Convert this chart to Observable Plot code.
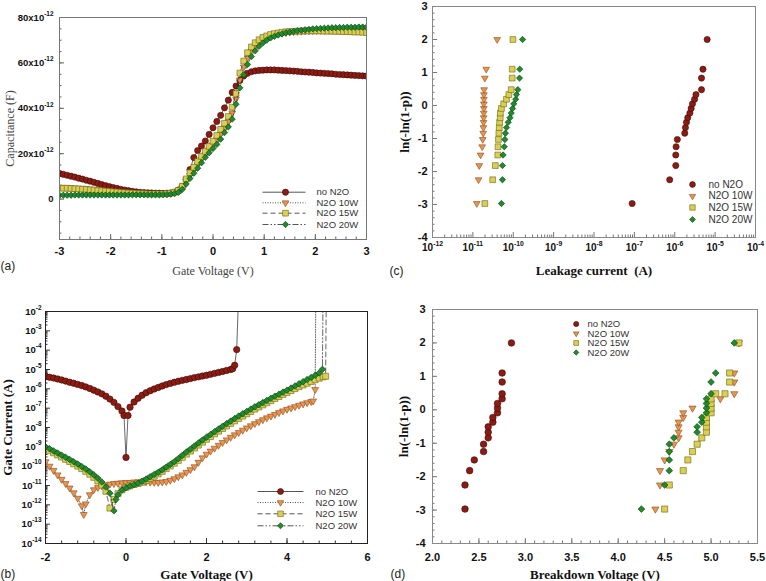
<!DOCTYPE html>
<html>
<head>
<meta charset="utf-8">
<script src="https://cdn.jsdelivr.net/npm/d3@7"></script>
<script src="https://cdn.jsdelivr.net/npm/@observablehq/plot@0.6"></script>
<style>
  body { margin: 0; background: #fff; }
  #fig { position: relative; width: 766px; height: 581px; overflow: hidden; background: #fff; }
  #fig svg { position: absolute; }
</style>
</head>
<body>
<div id="fig"></div>
<script>
// ---- series shared by all four panels ----
const seriesNames = ["no N2O", "N2O 10W", "N2O 15W", "N2O 20W"];
const markerSymbols = ["circle", "triangle", "square", "diamond2"];
const markerScale = [1, 0.8, 1.05, 0.92]; // evens out the apparent size of the symbols
const markerFills = ["#8c1c13", "#e8954f", "#d9cf52", "#1f8b2c"];
const markerStrokes = ["#3d0b06", "#8a4a1a", "#6d6518", "#0b3d12"];
const lineDashes = [undefined, "1,1.5", "5,3", "6,2,1.5,2,1.5,2"];

// ---- (a) C-V sweep: gate voltage (V) and capacitance (units of 1e-12 F) ----
const cvVoltage = [
  -3, -2.925, -2.85, -2.775, -2.7, -2.625, -2.55, -2.475, -2.4, -2.325,
  -2.25, -2.175, -2.1, -2.025, -1.95, -1.875, -1.8, -1.725, -1.65, -1.575,
  -1.5, -1.425, -1.35, -1.275, -1.2, -1.125, -1.05, -0.975, -0.9, -0.825,
  -0.75, -0.675, -0.6, -0.525, -0.45, -0.375, -0.3, -0.225, -0.15, -0.075,
  0, 0.075, 0.15, 0.225, 0.3, 0.375, 0.45, 0.525, 0.6, 0.675,
  0.75, 0.825, 0.9, 0.975, 1.05, 1.125, 1.2, 1.275, 1.35, 1.425,
  1.5, 1.575, 1.65, 1.725, 1.8, 1.875, 1.95, 2.025, 2.1, 2.175,
  2.25, 2.325, 2.4, 2.475, 2.55, 2.625, 2.7, 2.775, 2.85, 2.925,
  3
];
const capNoN2O = [
  11.3, 10.9, 10.5, 10.1, 9.7, 9.2, 8.8, 8.3, 7.9, 7.4,
  6.9, 6.4, 5.9, 5.5, 5.1, 4.7, 4.3, 4.0, 3.7, 3.4,
  3.2, 3.0, 2.9, 2.8, 2.7, 2.6, 2.6, 2.5, 2.6, 2.7,
  3.1, 4.0, 5.6, 8.6, 13.0, 18.3, 21.4, 23.4, 25.6, 28.5,
  31.4, 34.2, 36.9, 40.2, 43.6, 47.0, 49.8, 52.3, 54.2, 55.4,
  56.1, 56.5, 56.7, 56.8, 56.9, 56.9, 56.9, 56.8, 56.7, 56.6,
  56.5, 56.4, 56.3, 56.1, 56.0, 55.9, 55.8, 55.6, 55.5, 55.4,
  55.3, 55.2, 55.0, 54.9, 54.8, 54.7, 54.6, 54.5, 54.4, 54.3,
  54.2
];
const capN2O10W = [
  5.2, 5.1, 5.0, 4.9, 4.8, 4.7, 4.6, 4.5, 4.3, 4.2,
  4.0, 3.9, 3.7, 3.6, 3.4, 3.3, 3.1, 3.0, 2.9, 2.8,
  2.7, 2.6, 2.5, 2.5, 2.4, 2.4, 2.4, 2.4, 2.4, 2.5,
  2.8, 3.5, 5.0, 7.8, 10.4, 12.8, 15.1, 17.4, 19.6, 21.8,
  23.9, 26.1, 28.6, 31.3, 34.1, 37.9, 44.0, 52.5, 58.2, 62.2,
  65.2, 67.4, 69.0, 70.2, 71.1, 71.8, 72.3, 72.7, 73.0, 73.3,
  73.5, 73.7, 73.8, 73.9, 74.0, 74.1, 74.1, 74.2, 74.2, 74.2,
  74.2, 74.2, 74.2, 74.2, 74.1, 74.1, 74.1, 74.1, 74.0, 74.0,
  74.0
];
const capN2O15W = [
  4.9, 4.8, 4.8, 4.7, 4.6, 4.5, 4.4, 4.3, 4.1, 4.0,
  3.8, 3.7, 3.5, 3.4, 3.2, 3.1, 2.9, 2.8, 2.7, 2.6,
  2.5, 2.4, 2.4, 2.3, 2.3, 2.3, 2.3, 2.3, 2.4, 2.6,
  3.0, 3.8, 5.7, 8.9, 11.6, 14.0, 16.5, 18.8, 21.0, 23.2,
  25.5, 28.0, 30.7, 33.4, 36.4, 40.5, 46.5, 55.5, 60.8, 64.5,
  67.0, 68.9, 70.2, 71.2, 71.9, 72.5, 72.9, 73.2, 73.5, 73.7,
  73.8, 73.9, 74.0, 74.0, 74.1, 74.1, 74.1, 74.1, 74.1, 74.0,
  74.0, 74.0, 73.9, 73.9, 73.8, 73.8, 73.7, 73.6, 73.6, 73.5,
  73.4
];
const capN2O20W = [
  1.7, 1.7, 1.7, 1.7, 1.8, 1.8, 1.8, 1.8, 1.8, 1.8,
  1.8, 1.8, 1.8, 1.8, 1.8, 1.8, 1.8, 1.8, 1.8, 1.9,
  1.9, 1.9, 1.9, 1.9, 1.9, 1.9, 1.9, 2.0, 2.0, 2.2,
  2.5, 3.0, 4.3, 6.6, 9.1, 11.4, 13.6, 16.0, 18.4, 20.4,
  22.3, 24.1, 26.4, 29.3, 31.8, 35.2, 41.8, 49.0, 54.8, 59.3,
  62.8, 65.3, 67.3, 68.8, 70.0, 71.0, 71.7, 72.3, 72.8, 73.3,
  73.6, 73.9, 74.2, 74.4, 74.6, 74.8, 75.0, 75.1, 75.2, 75.3,
  75.4, 75.5, 75.5, 75.6, 75.6, 75.7, 75.7, 75.7, 75.8, 75.8,
  75.8
];
const capTicks = [0, 20, 40, 60, 80];

// ---- (b) I-V sweep: [gate voltage (V), log10 of gate current (A)] ----
const jgNoN2O = [
  [-2,-5.35],[-1.9,-5.40],[-1.8,-5.44],[-1.7,-5.49],[-1.6,-5.54],[-1.5,-5.60],[-1.4,-5.66],[-1.3,-5.71],
  [-1.2,-5.77],[-1.1,-5.83],[-1,-5.90],[-0.9,-5.98],[-0.8,-6.07],[-0.7,-6.16],[-0.6,-6.26],[-0.5,-6.38],
  [-0.4,-6.53],[-0.3,-6.70],[-0.2,-6.92],[-0.1,-7.15],[-0.05,-7.38],[0,-9.55],[0.05,-7.38],[0.1,-6.95],
  [0.2,-6.68],[0.3,-6.49],[0.4,-6.33],[0.5,-6.20],[0.6,-6.10],[0.7,-6.01],[0.8,-5.93],[0.9,-5.85],
  [1,-5.78],[1.1,-5.72],[1.2,-5.66],[1.3,-5.61],[1.4,-5.56],[1.5,-5.52],[1.6,-5.47],[1.7,-5.42],
  [1.8,-5.38],[1.9,-5.34],[2,-5.30],[2.1,-5.25],[2.2,-5.20],[2.3,-5.15],[2.4,-5.10],[2.5,-5.05],
  [2.6,-5.00],[2.65,-4.96],[2.7,-4.78],[2.75,-3.97],[2.8,-1]
];
const jgN2O10W = [
  [-2,-9.77],[-1.9,-10.00],[-1.8,-10.22],[-1.7,-10.45],[-1.6,-10.68],[-1.5,-10.90],[-1.4,-11.13],[-1.3,-11.38],
  [-1.2,-11.66],[-1.1,-12.05],[-1.05,-12.50],[-1,-11.95],[-0.9,-11.48],[-0.8,-11.22],[-0.7,-11.10],[-0.6,-11.02],
  [-0.5,-10.97],[-0.4,-10.93],[-0.3,-10.90],[-0.2,-10.88],[-0.1,-10.86],[0,-10.85],[0.1,-10.84],[0.2,-10.82],
  [0.3,-10.81],[0.4,-10.80],[0.5,-10.81],[0.6,-10.83],[0.7,-10.84],[0.8,-10.84],[0.9,-10.82],[1,-10.79],
  [1.1,-10.73],[1.2,-10.65],[1.3,-10.55],[1.4,-10.45],[1.5,-10.32],[1.6,-10.18],[1.7,-10.03],[1.8,-9.80],
  [1.9,-9.57],[2,-9.38],[2.1,-9.22],[2.2,-9.07],[2.3,-8.92],[2.4,-8.78],[2.5,-8.64],[2.6,-8.51],
  [2.7,-8.38],[2.8,-8.26],[2.9,-8.14],[3,-8.02],[3.1,-7.91],[3.2,-7.80],[3.3,-7.70],[3.4,-7.60],
  [3.5,-7.50],[3.6,-7.41],[3.7,-7.32],[3.8,-7.23],[3.9,-7.14],[4,-7.06],[4.1,-6.99],[4.2,-6.92],
  [4.3,-6.85],[4.4,-6.78],[4.5,-6.72],[4.6,-6.66],[4.65,-6.63],[4.7,-6.04],[4.72,0]
];
const jgN2O15W = [
  [-2,-9.10],[-1.9,-9.20],[-1.8,-9.31],[-1.7,-9.42],[-1.6,-9.53],[-1.5,-9.65],[-1.4,-9.76],[-1.3,-9.88],
  [-1.2,-10.00],[-1.1,-10.13],[-1,-10.27],[-0.9,-10.42],[-0.8,-10.58],[-0.7,-10.77],[-0.6,-10.98],[-0.5,-11.30],
  [-0.4,-12.17],[-0.3,-11.72],[-0.2,-11.42],[-0.1,-11.22],[0,-11.10],[0.1,-11.02],[0.2,-10.95],[0.3,-10.90],
  [0.4,-10.83],[0.5,-10.74],[0.6,-10.63],[0.7,-10.52],[0.8,-10.40],[0.9,-10.27],[1,-10.13],[1.1,-9.99],
  [1.2,-9.85],[1.3,-9.70],[1.4,-9.54],[1.5,-9.38],[1.6,-9.22],[1.7,-9.06],[1.8,-8.91],[1.9,-8.76],
  [2,-8.61],[2.1,-8.47],[2.2,-8.33],[2.3,-8.19],[2.4,-8.05],[2.5,-7.92],[2.6,-7.79],[2.7,-7.66],
  [2.8,-7.53],[2.9,-7.41],[3,-7.29],[3.1,-7.17],[3.2,-7.05],[3.3,-6.94],[3.4,-6.83],[3.5,-6.72],
  [3.6,-6.61],[3.7,-6.50],[3.8,-6.40],[3.9,-6.29],[4,-6.19],[4.1,-6.09],[4.2,-5.99],[4.3,-5.89],
  [4.4,-5.80],[4.5,-5.71],[4.6,-5.62],[4.7,-5.53],[4.8,-5.45],[4.9,-5.38],[4.96,-5.35],[4.98,0]
];
const jgN2O20W = [
  [-2,-9.00],[-1.9,-9.10],[-1.8,-9.21],[-1.7,-9.32],[-1.6,-9.43],[-1.5,-9.54],[-1.4,-9.65],[-1.3,-9.77],
  [-1.2,-9.89],[-1.1,-10.02],[-1,-10.15],[-0.9,-10.29],[-0.8,-10.45],[-0.7,-10.62],[-0.6,-10.82],[-0.5,-11.08],
  [-0.4,-11.40],[-0.3,-12.31],[-0.25,-11.72],[-0.2,-11.48],[-0.1,-11.24],[0,-11.12],[0.1,-11.03],[0.2,-10.96],
  [0.3,-10.88],[0.4,-10.78],[0.5,-10.67],[0.6,-10.55],[0.7,-10.43],[0.8,-10.32],[0.9,-10.19],[1,-10.05],
  [1.1,-9.91],[1.2,-9.77],[1.3,-9.61],[1.4,-9.44],[1.5,-9.27],[1.6,-9.12],[1.7,-8.96],[1.8,-8.80],
  [1.9,-8.65],[2,-8.50],[2.1,-8.36],[2.2,-8.22],[2.3,-8.08],[2.4,-7.94],[2.5,-7.80],[2.6,-7.67],
  [2.7,-7.54],[2.8,-7.41],[2.9,-7.29],[3,-7.17],[3.1,-7.05],[3.2,-6.93],[3.3,-6.82],[3.4,-6.71],
  [3.5,-6.60],[3.6,-6.49],[3.7,-6.38],[3.8,-6.28],[3.9,-6.17],[4,-6.07],[4.1,-5.96],[4.2,-5.85],
  [4.3,-5.74],[4.4,-5.63],[4.5,-5.52],[4.6,-5.41],[4.7,-5.30],[4.8,-5.18],[4.88,-4.99],[4.9,0]
];

// ---- (c) Weibull plot of leakage current: [current (A), ln(-ln(1-p))] ----
const leakNoN2O = [
  [8.8e-8,-2.97],[7.5e-7,-2.25],[1.06e-6,-1.82],[1.06e-6,-1.50],[1.08e-6,-1.25],[1.16e-6,-1.03],[1.77e-6,-0.84],
  [1.84e-6,-0.67],[1.95e-6,-0.51],[2.1e-6,-0.37],[2.37e-6,-0.23],[2.55e-6,-0.09],[2.75e-6,0.05],[3.1e-6,0.19],
  [3.35e-6,0.33],[4.6e-6,0.48],[4.6e-6,0.83],[5.0e-6,1.10],[6.35e-6,2.00]
];
const leakN2O10W = [
  [1.25e-11,-2.97],[1.38e-11,-2.25],[1.44e-11,-1.82],[1.55e-11,-1.50],[1.7e-11,-1.25],[1.75e-11,-1.03],[1.8e-11,-0.84],
  [1.82e-11,-0.67],[1.84e-11,-0.51],[1.85e-11,-0.37],[1.86e-11,-0.23],[1.87e-11,-0.09],[1.87e-11,0.05],[1.88e-11,0.19],
  [1.88e-11,0.33],[1.9e-11,0.48],[1.98e-11,0.83],[2.14e-11,1.10],[4.0e-11,2.00]
];
const leakN2O15W = [
  [1.98e-11,-2.97],[3.1e-11,-2.25],[3.6e-11,-1.82],[4.15e-11,-1.50],[4.2e-11,-1.25],[4.3e-11,-1.03],[4.4e-11,-0.84],
  [4.5e-11,-0.67],[4.6e-11,-0.51],[4.75e-11,-0.37],[4.8e-11,-0.23],[5.1e-11,-0.09],[5.8e-11,0.05],[6.8e-11,0.19],
  [7.8e-11,0.33],[8.9e-11,0.48],[9.4e-11,0.83],[9.4e-11,1.10],[9.8e-11,2.00]
];
const leakN2O20W = [
  [5.1e-11,-2.97],[5.4e-11,-2.25],[5.4e-11,-1.82],[5.6e-11,-1.50],[6.0e-11,-1.25],[6.2e-11,-1.03],[6.4e-11,-0.84],
  [6.8e-11,-0.67],[7.5e-11,-0.51],[8.3e-11,-0.37],[8.9e-11,-0.23],[9.6e-11,-0.09],[1.03e-10,0.05],[1.15e-10,0.19],
  [1.2e-10,0.33],[1.3e-10,0.48],[1.43e-10,0.83],[1.45e-10,1.10],[1.7e-10,2.00]
];

// ---- (d) Weibull plot of breakdown voltage: [voltage (V), ln(-ln(1-p))] ----
const bdNoN2O = [
  [2.35,-2.97],[2.35,-2.25],[2.40,-1.82],[2.45,-1.50],[2.55,-1.25],[2.55,-1.03],[2.60,-0.84],[2.60,-0.67],
  [2.60,-0.51],[2.65,-0.37],[2.65,-0.23],[2.70,-0.09],[2.70,0.05],[2.70,0.19],[2.75,0.33],[2.75,0.48],
  [2.75,0.83],[2.75,1.10],[2.85,2.00]
];
const bdN2O10W = [
  [4.40,-2.97],[4.45,-2.25],[4.45,-1.82],[4.50,-1.50],[4.55,-1.25],[4.60,-1.03],[4.65,-0.84],[4.65,-0.67],
  [4.65,-0.51],[4.65,-0.37],[4.70,-0.23],[4.70,-0.09],[4.80,0.05],[5.10,0.33],[5.25,0.48],[5.25,0.83],
  [5.25,1.10],[5.30,2.00]
];
const bdN2O15W = [
  [4.50,-2.97],[4.55,-2.25],[4.70,-1.82],[4.75,-1.50],[4.80,-1.25],[4.85,-1.03],[4.90,-0.84],[4.95,-0.67],
  [4.95,-0.51],[4.95,-0.37],[4.95,-0.23],[5.00,-0.09],[5.00,0.05],[5.00,0.19],[5.00,0.33],[5.05,0.48],
  [5.15,0.48],[5.20,0.83],[5.20,1.10],[5.30,2.00]
];
const bdN2O20W = [
  [4.25,-2.97],[4.50,-2.25],[4.55,-1.82],[4.55,-1.50],[4.55,-1.25],[4.55,-1.03],[4.60,-0.84],[4.85,-0.67],
  [4.85,-0.51],[4.90,-0.37],[4.90,-0.23],[4.95,-0.09],[4.95,0.05],[4.95,0.19],[4.95,0.33],[5.00,0.48],
  [5.00,0.83],[5.05,1.10],[5.25,2.00]
];

// ---- drawing helpers ----
const SANS = "Liberation Sans, Arial, Helvetica, sans-serif";
const SERIF = "Liberation Serif, Times New Roman, serif";
const fig = document.getElementById("fig");

for (const a of [capNoN2O, capN2O10W, capN2O15W, capN2O20W]) {
  if (a.length !== cvVoltage.length) throw new Error("C-V series length " + a.length);
}

// a flat stroke used as the line sample in legends
const legendLine = {draw(ctx, size) { const h = Math.sqrt(size / Math.PI); ctx.moveTo(-h, 0); ctx.lineTo(h, 0); }};

const rowsOf = (pairs, fy = (v) => v) => pairs.map(([x, y]) => ({x, y: fy(y)}));

function seriesMarks(rows, i, {r, line}) {
  const marks = [];
  if (line) marks.push(Plot.line(rows, {x: "x", y: "y", stroke: "#262626", strokeWidth: 0.7, strokeDasharray: lineDashes[i], clip: true}));
  marks.push(Plot.dot(rows, {
    x: "x", y: "y", r: r * markerScale[i], symbol: markerSymbols[i], rotate: i === 1 ? 180 : 0,
    fill: markerFills[i], stroke: markerStrokes[i], strokeWidth: 0.6, clip: true
  }));
  return marks;
}

function legendMarks({anchor, dys, markDx, textDx, line, r, fontSize}) {
  const marks = [];
  seriesNames.forEach((name, i) => {
    const dy = dys[i];
    if (line) marks.push(Plot.dot([name], {
      x: null, y: null, frameAnchor: anchor, dx: line.dx, dy, symbol: legendLine, r: line.half,
      fill: "none", stroke: "#555", strokeWidth: 1, strokeDasharray: lineDashes[i]
    }));
    marks.push(Plot.dot([name], {
      x: null, y: null, frameAnchor: anchor, dx: markDx, dy, symbol: markerSymbols[i], r: r * markerScale[i],
      rotate: i === 1 ? 180 : 0, fill: markerFills[i], stroke: markerStrokes[i], strokeWidth: 0.6
    }));
    marks.push(Plot.text([name], {
      x: null, y: null, frameAnchor: anchor, dx: textDx, dy, textAnchor: "start", lineAnchor: "middle",
      fontFamily: SANS, fontSize, fill: "#333"
    }));
  });
  return marks;
}

// "10^-12" style tick labels get a raised, smaller exponent
function raiseExponents(svg) {
  const ns = "http://www.w3.org/2000/svg";
  for (const t of svg.querySelectorAll("text")) {
    const s = t.textContent, k = s.indexOf("^");
    if (k < 0 || t.children.length) continue;
    const base = document.createElementNS(ns, "tspan");
    base.textContent = s.slice(0, k);
    const sup = document.createElementNS(ns, "tspan");
    sup.textContent = s.slice(k + 1);
    sup.setAttribute("font-size", "68%");
    sup.setAttribute("dy", "-0.75em");
    t.textContent = "";
    t.append(base, sup);
  }
}

function panel(cfg) {
  const t = cfg.titles;
  const svg = Plot.plot({
    width: cfg.width, height: cfg.height,
    marginTop: cfg.m[0], marginRight: cfg.m[1], marginBottom: cfg.m[2], marginLeft: cfg.m[3],
    x: {...cfg.x, label: null},
    y: {...cfg.y, label: null},
    style: {fontFamily: SANS, fontSize: "11px", color: "#111", background: "transparent"},
    marks: [
      Plot.axisX({ticks: cfg.xMinor, tickSize: -2.5, fill: "none", stroke: cfg.axisColor, label: null}),
      Plot.axisY({ticks: cfg.yMinor, tickSize: -2.5, fill: "none", stroke: cfg.axisColor, label: null}),
      Plot.axisX({ticks: cfg.xTicks, tickFormat: cfg.xFormat, tickSize: -5, tickPadding: cfg.xPad,
        stroke: cfg.axisColor, fill: "#111", fontSize: cfg.xFont, fontWeight: "bold", label: null}),
      Plot.axisY({ticks: cfg.yTicks, tickFormat: cfg.yFormat, tickSize: -5, tickPadding: cfg.yPad,
        stroke: cfg.axisColor, fill: "#111", fontSize: cfg.yFont, fontWeight: "bold", label: null}),
      ...cfg.marks,
      Plot.frame({stroke: cfg.frameColor, strokeWidth: 1}),
      Plot.text([t.x], {x: null, y: null, frameAnchor: "bottom", dy: t.xDy, textAnchor: "middle", lineAnchor: "middle",
        fontFamily: SERIF, fontSize: t.size, fontWeight: t.weight, fill: t.color}),
      Plot.text([t.y], {x: null, y: null, frameAnchor: "left", dx: t.yDx, rotate: -90, textAnchor: "middle", lineAnchor: "middle",
        fontFamily: SERIF, fontSize: t.size, fontWeight: t.weight, fill: t.color}),
      Plot.text([t.letter], {x: null, y: null, frameAnchor: "bottom-left", dx: t.letterDx, dy: t.letterDy,
        textAnchor: "start", lineAnchor: "middle", fontFamily: SANS, fontSize: 12, fill: "#222"}),
      ...cfg.legend
    ]
  });
  svg.style.left = cfg.left + "px";
  svg.style.top = cfg.top + "px";
  raiseExponents(svg);
  fig.append(svg);
}

const step = (a, b, s) => d3.range(Math.round((b - a) / s) + 1).map((k) => +(a + k * s).toFixed(6));
const logMinor = (e0, e1) => d3.range(e0, e1).flatMap((e) => d3.range(2, 10).map((k) => k * 10 ** e));
const powLabel = (d) => "10^" + Math.round(Math.log10(d));

// (a) capacitance vs gate voltage
const capSeries = [capNoN2O, capN2O10W, capN2O15W, capN2O20W];
panel({
  left: 0, top: 0, width: 383, height: 290, m: [17, 17, 51, 59],
  x: {domain: [-3, 3]}, y: {domain: [-17.8, 80]},
  xTicks: [-3, -2, -1, 0, 1, 2, 3], xMinor: step(-3, 3, 0.2), xFormat: (d) => String(d), xPad: 13, xFont: 11,
  yTicks: capTicks, yMinor: step(-15, 80, 5), yFormat: (d) => (d === 0 ? "0" : d + "x10^-12"), yPad: 11, yFont: 9.5,
  axisColor: "#666", frameColor: "#777",
  marks: capSeries.flatMap((vals, i) => seriesMarks(cvVoltage.map((v, k) => ({x: v, y: vals[k]})), i, {r: 3.1, line: true})),
  titles: {x: "Gate Voltage (V)", y: "Capacitance (F)", xDy: 32, yDx: -49, size: 12, weight: "normal", color: "#444",
    letter: "(a)", letterDx: -59, letterDy: 27},
  legend: legendMarks({anchor: "bottom-right", dys: [-47.3, -36.7, -26.3, -15], markDx: -81, textDx: -50,
    line: {dx: -82.5, half: 21.5}, r: 3.1, fontSize: 9.5})
});

// (c) Weibull plot of leakage current
const leakSeries = [leakNoN2O, leakN2O10W, leakN2O15W, leakN2O20W];
panel({
  left: 383, top: 0, width: 383, height: 290, m: [6, 11, 53, 49],
  x: {type: "log", domain: [1e-12, 1e-4]}, y: {domain: [-4, 3]},
  xTicks: d3.range(-12, -3).map((e) => 10 ** e), xMinor: logMinor(-12, -4), xFormat: powLabel, xPad: 11, xFont: 10,
  yTicks: d3.range(-4, 4), yMinor: step(-4, 3, 0.2), yFormat: (d) => String(d), yPad: 10, yFont: 11,
  axisColor: "#777", frameColor: "#888",
  marks: leakSeries.flatMap((pairs, i) => seriesMarks(rowsOf(pairs), i, {r: 3.1, line: false})),
  titles: {x: "Leakage current  (A)", y: "ln(-ln(1-p))", xDy: 33.7, yDx: -27.3, size: 13, weight: "bold", color: "#111",
    letter: "(c)", letterDx: -43, letterDy: 33.7},
  legend: legendMarks({anchor: "bottom-right", dys: [-53, -41.3, -30, -18], markDx: -63, textDx: -47, r: 2.9, fontSize: 10})
});

// (b) gate current vs gate voltage
const jgSeries = [jgNoN2O, jgN2O10W, jgN2O15W, jgN2O20W];
panel({
  left: 0, top: 290, width: 383, height: 291, m: [21, 16, 38, 45],
  x: {domain: [-2, 6]}, y: {type: "log", domain: [1e-14, 1e-2]},
  xTicks: [-2, 0, 2, 4, 6], xMinor: step(-2, 6, 0.4), xFormat: (d) => String(d), xPad: 14.5, xFont: 11,
  yTicks: d3.range(-14, -1).map((e) => 10 ** e), yMinor: logMinor(-14, -2), yFormat: powLabel, yPad: 9, yFont: 9.5,
  axisColor: "#333", frameColor: "#222",
  marks: jgSeries.flatMap((pairs, i) => seriesMarks(rowsOf(pairs, (e) => 10 ** e), i, {r: 3.2, line: true})),
  titles: {x: "Gate Voltage (V)", y: "Gate Current (A)", xDy: 31, yDx: -37.7, size: 13, weight: "bold", color: "#111",
    letter: "(b)", letterDx: -45, letterDy: 31},
  legend: legendMarks({anchor: "bottom-right", dys: [-52, -41, -29.7, -17.7], markDx: -87, textDx: -52,
    line: {dx: -87, half: 23}, r: 3.0, fontSize: 9.5})
});

// (d) Weibull plot of breakdown voltage
const bdSeries = [bdNoN2O, bdN2O10W, bdN2O15W, bdN2O20W];
panel({
  left: 383, top: 290, width: 383, height: 291, m: [19, 9, 38, 49],
  x: {domain: [2, 5.5]}, y: {domain: [-4, 3]},
  xTicks: step(2, 5.5, 0.5), xMinor: step(2, 5.5, 0.1), xFormat: d3.format(".1f"), xPad: 14.5, xFont: 11,
  yTicks: d3.range(-4, 4), yMinor: step(-4, 3, 0.2), yFormat: (d) => String(d), yPad: 12, yFont: 11,
  axisColor: "#777", frameColor: "#888",
  marks: bdSeries.flatMap((pairs, i) => seriesMarks(rowsOf(pairs), i, {r: 3.3, line: false})),
  titles: {x: "Breakdown Voltage (V)", y: "ln(-ln(1-p))", xDy: 31, yDx: -29, size: 13, weight: "bold", color: "#111",
    letter: "(d)", letterDx: -42, letterDy: 31},
  legend: legendMarks({anchor: "top-left", dys: [14.5, 24, 33.5, 43], markDx: 143.7, textDx: 155, r: 2.6, fontSize: 9.5})
});
</script>
</body>
</html>
